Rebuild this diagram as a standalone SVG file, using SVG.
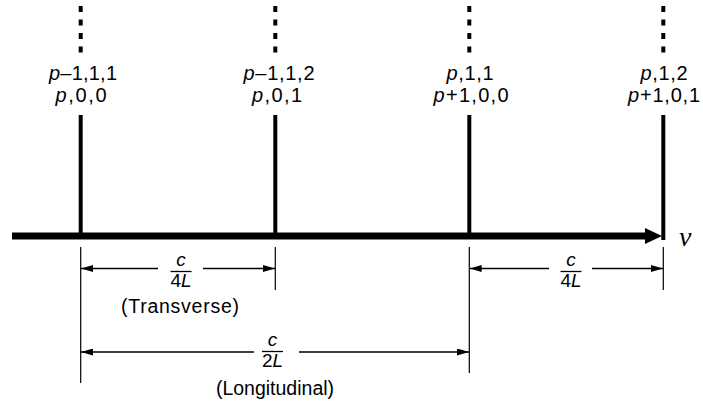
<svg xmlns="http://www.w3.org/2000/svg" width="703" height="403" viewBox="0 0 703 403">
<defs>
<style>
text{font-family:"Liberation Sans",Arial,sans-serif;fill:#000}
.lab{font-size:20px;text-anchor:middle}
.frac{font-size:19px;text-anchor:middle}
.note{font-size:19.5px;text-anchor:middle}
.it{font-style:italic}
.dim{stroke:#000;stroke-width:1.4;fill:none}
.ext{stroke:#000;stroke-width:1.2}
.tick{stroke:#000;stroke-width:4}
.dots{stroke:#000;stroke-width:4;stroke-dasharray:6 7.5}
.bar{stroke:#000;stroke-width:1.3}
</style>
<marker id="ah" viewBox="0 0 12 7" refX="12" refY="3.5" markerWidth="12" markerHeight="7" markerUnits="userSpaceOnUse" orient="auto-start-reverse">
<path d="M0,0 L12,3.5 L0,7 Z" fill="#000"/>
</marker>
</defs>
<g id="axis">
<line x1="12" y1="236" x2="648" y2="236" stroke="#000" stroke-width="7"/>
<path d="M645,228 L662,236 L645,244 Z" fill="#000"/>
<text x="679" y="246" style="font-family:'Liberation Serif','Times New Roman',serif;font-size:28px;font-style:italic">ν</text>
</g>
<g id="line1">
<line class="dots" x1="80.7" y1="6" x2="80.7" y2="53"/>
<text class="lab" x="83" y="80" textLength="68" lengthAdjust="spacing"><tspan class="it">p</tspan>–1,1,1</text>
<text class="lab" x="81" y="102" textLength="51" lengthAdjust="spacing"><tspan class="it">p</tspan>,0,0</text>
<line class="tick" x1="80.7" y1="115" x2="80.7" y2="236"/>
</g>
<g id="line2">
<line class="dots" x1="275.3" y1="6" x2="275.3" y2="53"/>
<text class="lab" x="279" y="80" textLength="71" lengthAdjust="spacing"><tspan class="it">p</tspan>–1,1,2</text>
<text class="lab" x="277" y="102" textLength="50" lengthAdjust="spacing"><tspan class="it">p</tspan>,0,1</text>
<line class="tick" x1="275.3" y1="115" x2="275.3" y2="236"/>
</g>
<g id="line3">
<line class="dots" x1="469.3" y1="6" x2="469.3" y2="53"/>
<text class="lab" x="470" y="80" textLength="47" lengthAdjust="spacing"><tspan class="it">p</tspan>,1,1</text>
<text class="lab" x="471" y="102" textLength="75" lengthAdjust="spacing"><tspan class="it">p</tspan>+1,0,0</text>
<line class="tick" x1="469.3" y1="115" x2="469.3" y2="236"/>
</g>
<g id="line4">
<line class="dots" x1="663.3" y1="6" x2="663.3" y2="53"/>
<text class="lab" x="664" y="80" textLength="47" lengthAdjust="spacing"><tspan class="it">p</tspan>,1,2</text>
<text class="lab" x="664" y="102" textLength="72" lengthAdjust="spacing"><tspan class="it">p</tspan>+1,0,1</text>
<line class="tick" x1="663.3" y1="115" x2="663.3" y2="240"/>
</g>
<g id="connectors">
<line class="ext" x1="80.7" y1="247" x2="80.7" y2="383"/>
<line class="ext" x1="275.3" y1="247" x2="275.3" y2="290"/>
<line class="ext" x1="469.3" y1="247" x2="469.3" y2="373"/>
<line class="ext" x1="663.3" y1="247" x2="663.3" y2="290"/>
<line class="dim" x1="158" y1="268.5" x2="81" y2="268.5" marker-end="url(#ah)"/>
<line class="dim" x1="203" y1="268.5" x2="275" y2="268.5" marker-end="url(#ah)"/>
<line class="dim" x1="549" y1="268.5" x2="469.6" y2="268.5" marker-end="url(#ah)"/>
<line class="dim" x1="592" y1="268.5" x2="663" y2="268.5" marker-end="url(#ah)"/>
<line class="dim" x1="254" y1="352" x2="81" y2="352" marker-end="url(#ah)"/>
<line class="dim" x1="299" y1="352" x2="469" y2="352" marker-end="url(#ah)"/>
</g>
<g id="label-transverse">
<text class="frac it" x="181" y="265.5">c</text>
<line class="bar" x1="170.5" y1="271.5" x2="191.5" y2="271.5"/>
<text class="frac" x="181" y="286.5">4<tspan class="it">L</tspan></text>
<text class="note" x="180" y="313" textLength="118" lengthAdjust="spacing">(Transverse)</text>
</g>
<g id="label-longitudinal">
<text class="frac it" x="272.5" y="345.5">c</text>
<line class="bar" x1="262" y1="351.5" x2="283" y2="351.5"/>
<text class="frac" x="272.5" y="366.5">2<tspan class="it">L</tspan></text>
<text class="note" x="275" y="395">(Longitudinal)</text>
</g>
<g id="label-right">
<text class="frac it" x="571" y="265.5">c</text>
<line class="bar" x1="560.5" y1="271.5" x2="581.5" y2="271.5"/>
<text class="frac" x="571" y="286.5">4<tspan class="it">L</tspan></text>
</g>
</svg>
